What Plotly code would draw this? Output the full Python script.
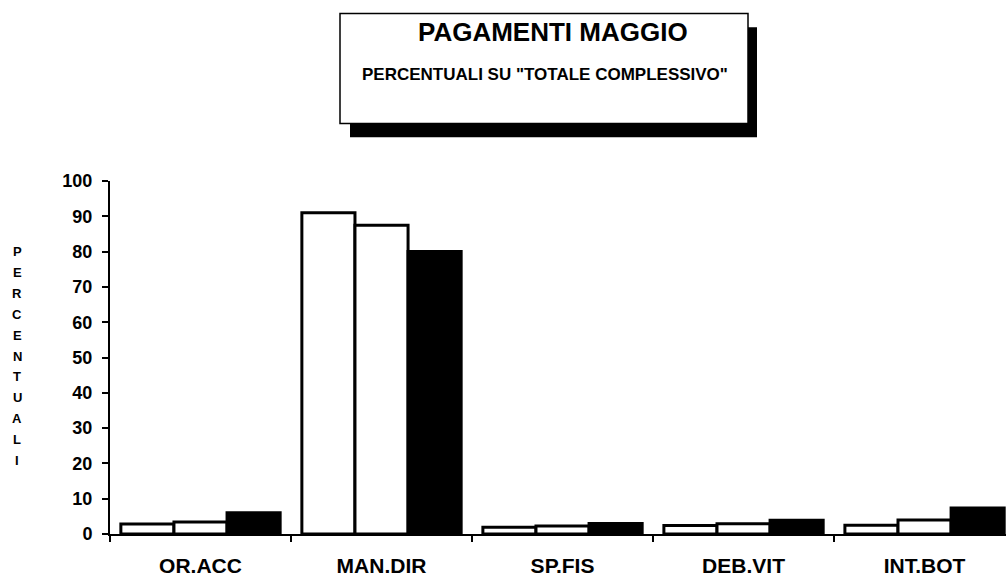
import plotly.graph_objects as go

# Dati (percentuali su "totale complessivo")
categories = ["OR.ACC", "MAN.DIR", "SP.FIS", "DEB.VIT", "INT.BOT"]
serie_1 = [2.8, 91.0, 1.9, 2.4, 2.5]
serie_2 = [3.4, 87.5, 2.3, 2.9, 4.0]
serie_3 = [6.0, 80.0, 3.0, 3.9, 7.4]
y_ticks = [0, 10, 20, 30, 40, 50, 60, 70, 80, 90, 100]

TITOLO      = "PAGAMENTI MAGGIO"
SOTTOTITOLO = 'PERCENTUALI SU "TOTALE COMPLESSIVO"'
ASSE_Y      = "PERCENTUALI"

FONT  = "Liberation Sans, Arial, sans-serif"
BLACK = "#000000"
WHITE = "#ffffff"

# plot area in pixel
L, R, T, B = 110, 1006, 181, 537


def px_x(x):
    return (x - L) / (R - L)


def px_y(y):
    return (B - y) / (B - T)


fig = go.Figure()

for vals, fill in [(serie_1, WHITE), (serie_2, WHITE), (serie_3, BLACK)]:
    fig.add_trace(go.Bar(
        x=categories, y=vals,
        marker=dict(color=fill, line=dict(color=BLACK, width=3)),
        showlegend=False,
    ))

# Riquadro del titolo con ombra
shapes = [
    dict(type="rect", xref="paper", yref="paper",
         x0=px_x(350), x1=px_x(757), y0=px_y(137), y1=px_y(26),
         fillcolor=BLACK, line=dict(width=0), layer="above"),
    dict(type="rect", xref="paper", yref="paper",
         x0=px_x(340), x1=px_x(748), y0=px_y(123), y1=px_y(12),
         fillcolor=WHITE, line=dict(color=BLACK, width=1.5), layer="above"),
]

annotations = [
    dict(text=TITOLO, xref="paper", yref="paper",
         x=px_x(553), y=px_y(31), showarrow=False,
         xanchor="center", yanchor="middle",
         font=dict(family=FONT, size=26, color=BLACK, weight="bold")),
    dict(text=SOTTOTITOLO, xref="paper", yref="paper",
         x=px_x(545), y=px_y(74), showarrow=False,
         xanchor="center", yanchor="middle",
         font=dict(family=FONT, size=17, color=BLACK, weight="bold")),
]

# Titolo asse Y scritto in verticale, lettera per lettera
for i, ch in enumerate(ASSE_Y):
    annotations.append(dict(
        text=ch, xref="paper", yref="paper",
        x=px_x(17), y=px_y(252 + i * 21.1), showarrow=False,
        xanchor="center", yanchor="middle",
        font=dict(family=FONT, size=13, color=BLACK, weight="bold"),
    ))

fig.update_layout(
    width=1008, height=579,
    paper_bgcolor=WHITE, plot_bgcolor=WHITE,
    margin=dict(l=L, r=1008 - R, t=T, b=579 - B, pad=0),
    barmode="group", bargap=0.12, bargroupgap=0,
    font=dict(family=FONT, color=BLACK),
    shapes=shapes,
    annotations=annotations,
    xaxis=dict(
        range=[-0.5, 4.45],
        showline=True, linecolor=BLACK, linewidth=2,
        ticks="outside", tickson="boundaries", ticklen=6,
        tickwidth=1.5, tickcolor=BLACK,
        showgrid=False, zeroline=False,
        tickfont=dict(family=FONT, size=21, color=BLACK, weight="bold"),
        ticklabelstandoff=12,
    ),
    yaxis=dict(
        range=[0, 100],
        tickvals=y_ticks,
        showline=True, linecolor=BLACK, linewidth=2,
        ticks="outside", ticklen=6, tickwidth=1.5, tickcolor=BLACK,
        showgrid=False, zeroline=False,
        tickfont=dict(family=FONT, size=18, color=BLACK, weight="bold"),
        ticklabelstandoff=6,
    ),
)

# niente margine di pagina attorno al grafico, niente barra strumenti
fig.write_html(
    "out.html",
    config={"displayModeBar": False},
    post_script="document.body.style.margin = '0px';",
)
